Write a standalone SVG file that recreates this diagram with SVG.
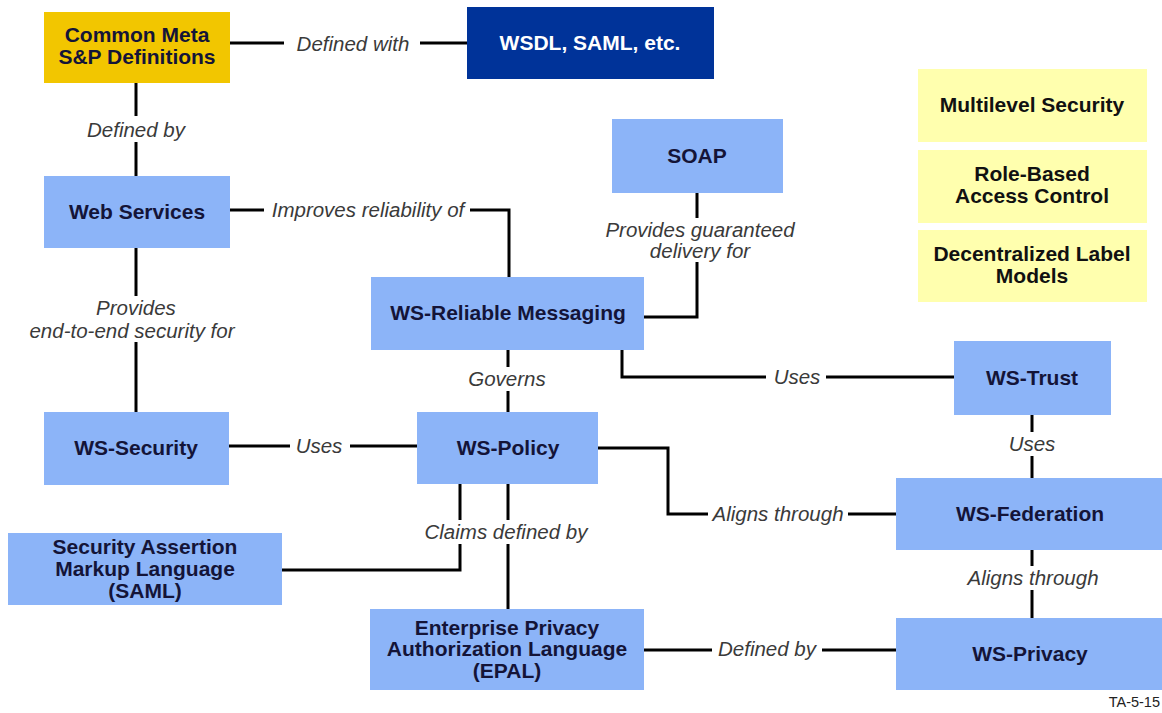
<svg xmlns="http://www.w3.org/2000/svg" width="1162" height="713" viewBox="0 0 1162 713">
  <style>
    .node { fill: #8cb4f8; }
    .gold { fill: #f2c600; }
    .navy { fill: #003399; }
    .pale { fill: #ffffae; }
    .nt { font-family: "Liberation Sans", Arial, sans-serif; font-weight: bold; font-size: 21px; fill: #141438; text-anchor: middle; }
    .wt { fill: #ffffff; }
    .bt { fill: #111111; }
    .wire { fill: none; stroke: #000000; stroke-width: 3; }
    .lbg { fill: #ffffff; }
    .lt { font-family: "Liberation Sans", Arial, sans-serif; font-style: italic; font-size: 20.5px; fill: #3a3a3a; text-anchor: middle; }
    .tag { font-family: "Liberation Sans", Arial, sans-serif; font-size: 14.5px; fill: #222222; text-anchor: end; }
  </style>
  <rect width="1162" height="713" fill="#ffffff"/>

  <!-- connectors -->
  <g id="connectors">
    <path class="wire" d="M230,43 H467"/>
    <path class="wire" d="M136,83 V176"/>
    <path class="wire" d="M230,210 H509 V277"/>
    <path class="wire" d="M697,193 V317 H644"/>
    <path class="wire" d="M622,350 V377 H954"/>
    <path class="wire" d="M508,350 V412"/>
    <path class="wire" d="M136,248 V412"/>
    <path class="wire" d="M229,446 H417"/>
    <path class="wire" d="M598,448 H668 V514 H896"/>
    <path class="wire" d="M460,484 V570 H282"/>
    <path class="wire" d="M508,484 V609"/>
    <path class="wire" d="M1032,415 V478"/>
    <path class="wire" d="M1032,550 V618"/>
    <path class="wire" d="M644,650 H896"/>

    <!-- label backings interrupt the lines -->
    <rect class="lbg" x="284" y="32" width="136" height="24"/>
    <rect class="lbg" x="84" y="116" width="104" height="26"/>
    <rect class="lbg" x="264" y="198" width="206" height="24"/>
    <rect class="lbg" x="600" y="218" width="200" height="44"/>
    <rect class="lbg" x="766" y="365" width="60" height="24"/>
    <rect class="lbg" x="462" y="367" width="92" height="24"/>
    <rect class="lbg" x="16" y="296" width="236" height="46"/>
    <rect class="lbg" x="290" y="434" width="60" height="24"/>
    <rect class="lbg" x="708" y="502" width="140" height="24"/>
    <rect class="lbg" x="418" y="520" width="176" height="24"/>
    <rect class="lbg" x="1002" y="432" width="60" height="24"/>
    <rect class="lbg" x="962" y="566" width="142" height="24"/>
    <rect class="lbg" x="712" y="637" width="110" height="24"/>

    <text class="lt" x="353" y="51">Defined with</text>
    <text class="lt" x="136" y="137">Defined by</text>
    <text class="lt" x="368" y="217">Improves reliability of</text>
    <text class="lt" x="700" y="237">Provides guaranteed</text>
    <text class="lt" x="700" y="258">delivery for</text>
    <text class="lt" x="797" y="384">Uses</text>
    <text class="lt" x="507" y="386">Governs</text>
    <text class="lt" x="136" y="315">Provides</text>
    <text class="lt" x="132" y="338">end-to-end security for</text>
    <text class="lt" x="319" y="453">Uses</text>
    <text class="lt" x="778" y="521">Aligns through</text>
    <text class="lt" x="506" y="539">Claims defined by</text>
    <text class="lt" x="1032" y="451">Uses</text>
    <text class="lt" x="1033" y="585">Aligns through</text>
    <text class="lt" x="767" y="656">Defined by</text>
  </g>

  <!-- nodes -->
  <g id="common-meta">
    <rect class="gold" x="44" y="12" width="186" height="71"/>
    <text class="nt" x="137" y="42">Common Meta</text>
    <text class="nt" x="137" y="64">S&amp;P Definitions</text>
  </g>
  <g id="wsdl">
    <rect class="navy" x="467" y="7" width="247" height="72"/>
    <text class="nt wt" x="590" y="50">WSDL, SAML, etc.</text>
  </g>
  <g id="web-services">
    <rect class="node" x="44" y="176" width="186" height="72"/>
    <text class="nt" x="137" y="219">Web Services</text>
  </g>
  <g id="soap">
    <rect class="node" x="612" y="119" width="171" height="74"/>
    <text class="nt" x="697" y="163">SOAP</text>
  </g>
  <g id="ws-reliable-messaging">
    <rect class="node" x="371" y="277" width="273" height="73"/>
    <text class="nt" x="508" y="320">WS-Reliable Messaging</text>
  </g>
  <g id="ws-security">
    <rect class="node" x="44" y="412" width="185" height="73"/>
    <text class="nt" x="136" y="455">WS-Security</text>
  </g>
  <g id="ws-policy">
    <rect class="node" x="417" y="412" width="181" height="72"/>
    <text class="nt" x="508" y="455">WS-Policy</text>
  </g>
  <g id="saml">
    <rect class="node" x="8" y="533" width="274" height="72"/>
    <text class="nt" x="145" y="554">Security Assertion</text>
    <text class="nt" x="145" y="576">Markup Language</text>
    <text class="nt" x="145" y="598">(SAML)</text>
  </g>
  <g id="epal">
    <rect class="node" x="370" y="609" width="274" height="81"/>
    <text class="nt" x="507" y="635">Enterprise Privacy</text>
    <text class="nt" x="507" y="656">Authorization Language</text>
    <text class="nt" x="507" y="678">(EPAL)</text>
  </g>
  <g id="ws-trust">
    <rect class="node" x="954" y="341" width="157" height="74"/>
    <text class="nt" x="1032" y="385">WS-Trust</text>
  </g>
  <g id="ws-federation">
    <rect class="node" x="896" y="478" width="266" height="72"/>
    <text class="nt" x="1030" y="521">WS-Federation</text>
  </g>
  <g id="ws-privacy">
    <rect class="node" x="896" y="618" width="266" height="72"/>
    <text class="nt" x="1030" y="661">WS-Privacy</text>
  </g>
  <g id="multilevel-security">
    <rect class="pale" x="918" y="69" width="229" height="73"/>
    <text class="nt bt" x="1032" y="112">Multilevel Security</text>
  </g>
  <g id="role-based-access-control">
    <rect class="pale" x="918" y="150" width="229" height="73"/>
    <text class="nt bt" x="1032" y="181">Role-Based</text>
    <text class="nt bt" x="1032" y="203">Access Control</text>
  </g>
  <g id="decentralized-label-models">
    <rect class="pale" x="918" y="230" width="229" height="72"/>
    <text class="nt bt" x="1032" y="261">Decentralized Label</text>
    <text class="nt bt" x="1032" y="283">Models</text>
  </g>

  <text class="tag" x="1160" y="707">TA-5-15</text>
</svg>
